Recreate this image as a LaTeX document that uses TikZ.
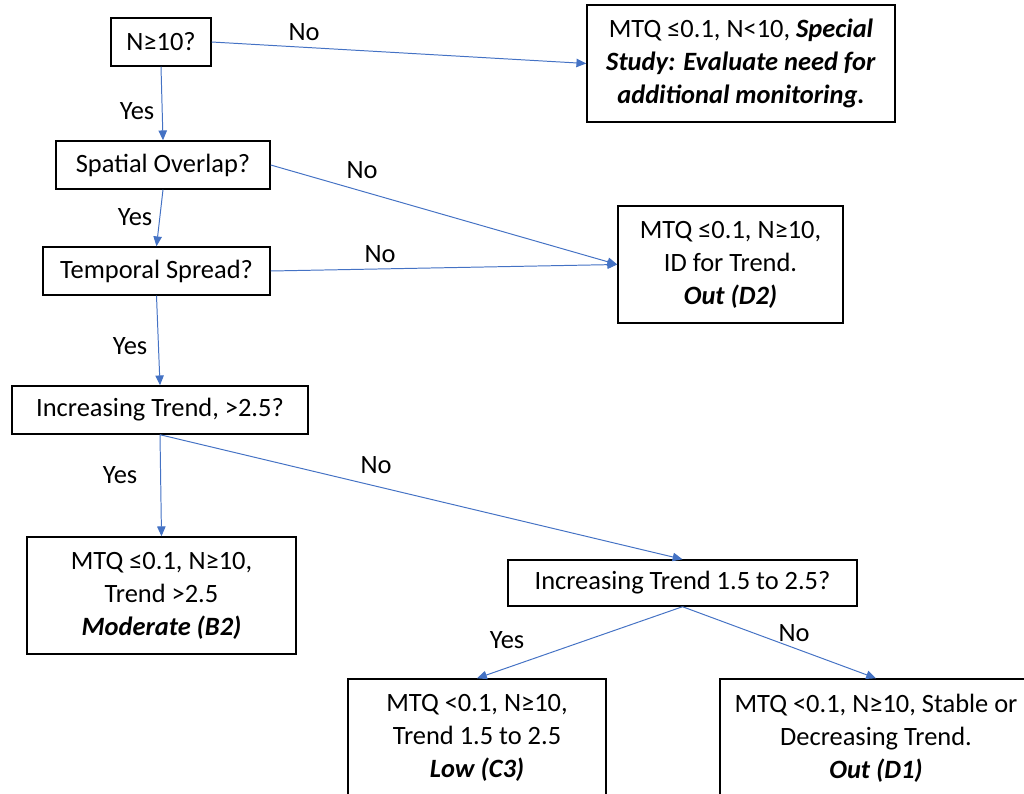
\documentclass[tikz,border=0pt]{standalone}
\usepackage{fontspec}
\setmainfont{Carlito}
\usetikzlibrary{arrows.meta}
\definecolor{arrblue}{RGB}{68,114,196}
\tikzset{
  box/.style={draw=black,line width=1pt,fill=white,align=center,inner sep=0pt,
    font=\fontsize{18.8}{23.4}\selectfont},
  arr/.style={draw=arrblue,line width=0.7pt,-{Triangle[length=7pt,width=6pt]}},
  lbl/.style={font=\fontsize{18.8}{22}\selectfont,inner sep=0pt}
}
\newcommand{\bi}[1]{\textbf{\textit{#1}}}
\begin{document}
\begin{tikzpicture}[x=0.025cm,y=-0.025cm]
			\useasboundingbox (0,0) rectangle (1024,794);
			% questions
			\node[box,minimum width=2.5cm,minimum height=1.2cm] (nten) at (161,42) {N≥10?};
			\node[box,minimum width=5.35cm,minimum height=1.2cm] (spatial) at (163,165) {Spatial Overlap?};
			\node[box,minimum width=5.675cm,minimum height=1.2cm] (temporal) at (156.5,271) {Temporal Spread?};
			\node[box,minimum width=7.4cm,minimum height=1.2cm] (incr) at (160,410) {Increasing Trend, >2.5?};
			\node[box,minimum width=8.725cm,minimum height=1.15cm] (incrmid) at (682.5,583) {Increasing Trend 1.5 to 2.5?};
			% outcomes
			\node[box,minimum width=7.7cm,minimum height=2.925cm] (special) at (741,63.5)
				{MTQ ≤0.1, N<10, \bi{Special}\\ \bi{Study: Evaluate need for}\\ \bi{additional monitoring.}};
			\node[box,minimum width=5.625cm,minimum height=2.925cm] (outDtwo) at (730.5,264.5)
				{MTQ ≤0.1, N≥10,\\ ID for Trend.\\ \bi{Out (D2)}};
			\node[box,minimum width=6.725cm,minimum height=2.925cm] (modB) at (161.5,595.5)
				{MTQ ≤0.1, N≥10,\\ Trend >2.5\\ \bi{Moderate (B2)}};
			\node[box,minimum width=6.45cm,minimum height=2.95cm] (lowC) at (477,738)
				{MTQ <0.1, N≥10,\\ Trend 1.5 to 2.5\\ \bi{Low (C3)}};
			\node[box,minimum width=7.8cm,minimum height=2.95cm] (outDone) at (876,738)
				{MTQ <0.1, N≥10, Stable or\\ Decreasing Trend.\\ \bi{Out (D1)}};
			% connectors
			\draw[arr] (nten.east) -- (special.west);
			\draw[arr] (nten.south) -- (spatial.north);
			\draw[arr] (spatial.east) -- (outDtwo.west);
			\draw[arr] (spatial.south) -- (temporal.north);
			\draw[arr] (temporal.east) -- (outDtwo.west);
			\draw[arr] (temporal.south) -- (incr.north);
			\draw[arr] (incr.south) -- (modB.north);
			\draw[arr] (incr.south) -- (incrmid.north);
			\draw[arr] (incrmid.south) -- (lowC.north);
			\draw[arr] (incrmid.south) -- (outDone.north);
			% labels
			\node[lbl] (noA) at (304,32) {No};
			\node[lbl] (yesA) at (137,111) {Yes};
			\node[lbl] (noB) at (362,170) {No};
			\node[lbl] (yesB) at (135,217) {Yes};
			\node[lbl] (noC) at (380,254) {No};
			\node[lbl] (yesC) at (130,346) {Yes};
			\node[lbl] (yesD) at (120,475) {Yes};
			\node[lbl] (noD) at (376,465) {No};
			\node[lbl] (yesE) at (507,640) {Yes};
			\node[lbl] (noE) at (794,633) {No};
		\end{tikzpicture}
\end{document}
